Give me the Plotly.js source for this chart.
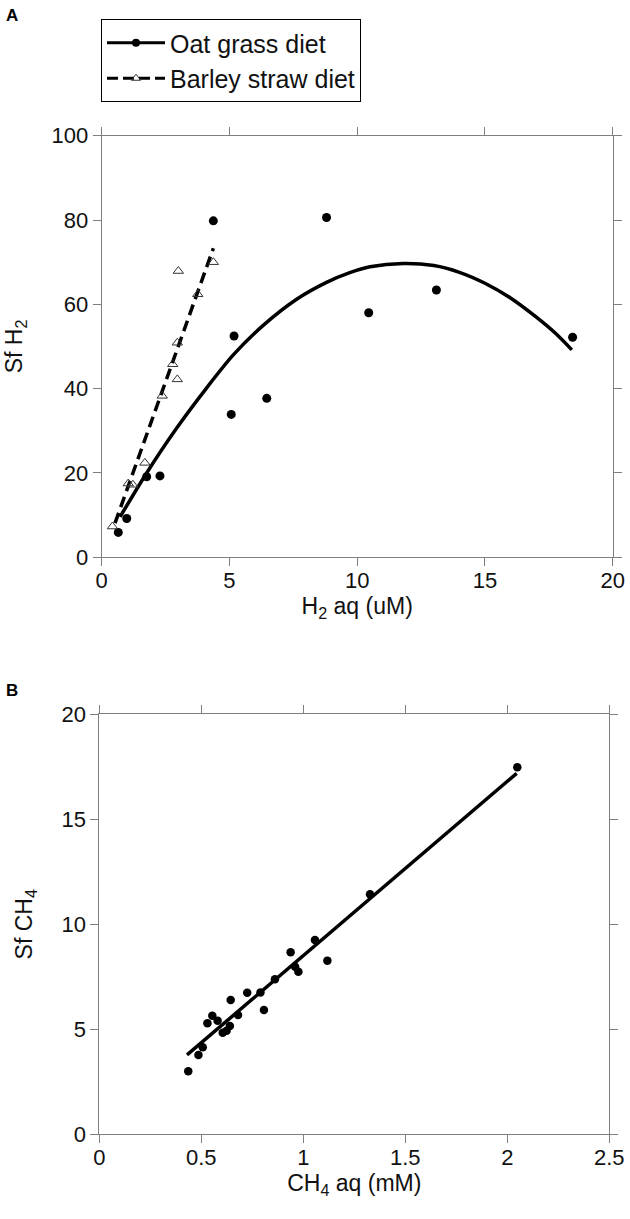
<!DOCTYPE html>
<html>
<head>
<meta charset="utf-8">
<script src="https://cdn.plot.ly/plotly-3.0.1.min.js"></script>
<style>
  html, body { margin: 0; padding: 0; background: #fff; }
  #chart { width: 630px; height: 1219px; }
</style>
</head>
<body>
<div id="chart"></div>
<script>
// ---- Painel A: H2 ----
const oatH2 = [0.65, 0.98, 1.76, 2.28, 4.37, 5.07, 5.18, 6.46, 8.80, 10.45, 13.1, 18.43];
const oatSf = [5.9, 9.2, 19.1, 19.3, 79.8, 33.9, 52.5, 37.7, 80.6, 58.0, 63.4, 52.2];

const barleyH2 = [0.42, 1.04, 1.22, 1.69, 2.37, 2.78, 2.96, 2.96, 3.0, 3.76, 4.37];
const barleySf = [7.3, 17.5, 17.2, 22.4, 38.3, 45.8, 42.2, 50.9, 67.9, 62.4, 70.0];

// curvas de ajuste
const oatFitX = [0.72, 1.76, 2.93, 4.11, 5.15, 6.32, 7.63, 8.80, 9.71, 10.5, 11.8, 13.0, 14.0, 15.0, 16.0, 17.0, 17.8, 18.4];
const oatFitY = [9.6, 20.0, 30.6, 40.2, 48.0, 55.0, 61.2, 65.2, 67.5, 68.9, 69.7, 69.2, 67.6, 65.0, 61.5, 57.0, 52.9, 49.2];
const barleyFitX = [0.52, 4.37];
const barleyFitY = [8.1, 73.3];

// ---- Painel B: CH4 ----
const ch4Aq = [0.436, 0.486, 0.507, 0.530, 0.554, 0.580, 0.605, 0.624, 0.640, 0.644, 0.680, 0.725,
               0.790, 0.807, 0.861, 0.938, 0.960, 0.976, 1.057, 1.118, 1.327, 2.049];
const ch4Sf = [3.0, 3.78, 4.14, 5.29, 5.65, 5.41, 4.84, 4.93, 5.16, 6.40, 5.68, 6.74,
               6.75, 5.92, 7.38, 8.67, 7.98, 7.74, 9.25, 8.27, 11.43, 17.48];
const ch4FitX = [0.43, 2.046];
const ch4FitY = [3.78, 17.19];

const seriesNames = ["Oat grass diet", "Barley straw diet"];

const FONT = "Liberation Sans, Arial, sans-serif";
const AXIS_GRAY = "#7f7f7f";

function axisBase(range, dtick, domain, anchor) {
  return {
    range: range,
    dtick: dtick,
    tick0: 0,
    domain: domain,
    anchor: anchor,
    showgrid: false,
    zeroline: false,
    showline: true,
    linecolor: AXIS_GRAY,
    linewidth: 1,
    mirror: "ticks",
    ticks: "outside",
    ticklen: 8,
    tickcolor: AXIS_GRAY,
    tickfont: { family: FONT, size: 22, color: "#111" },
    fixedrange: true
  };
}

const traces = [
  // legenda (apenas simbolos)
  {
    x: [null], y: [null], mode: "lines+markers", name: seriesNames[0],
    line: { color: "black", width: 3 },
    marker: { symbol: "circle", size: 8, color: "black" },
    xaxis: "x", yaxis: "y"
  },
  {
    x: [null], y: [null], mode: "lines+markers", name: seriesNames[1],
    line: { color: "black", width: 3, dash: "11px,5px" },
    marker: { symbol: "triangle-up-open", size: 8, color: "#333", line: { width: 1 } },
    xaxis: "x", yaxis: "y"
  },
  // painel A
  {
    x: oatFitX, y: oatFitY, mode: "lines", showlegend: false,
    line: { color: "black", width: 3.5, shape: "spline", smoothing: 0.8 },
    xaxis: "x", yaxis: "y", hoverinfo: "skip"
  },
  {
    x: barleyFitX, y: barleyFitY, mode: "lines", showlegend: false,
    line: { color: "black", width: 3.5, dash: "11px,6px" },
    xaxis: "x", yaxis: "y", hoverinfo: "skip"
  },
  {
    x: oatH2, y: oatSf, mode: "markers", showlegend: false,
    marker: { symbol: "circle", size: 9, color: "black" },
    xaxis: "x", yaxis: "y"
  },
  {
    x: barleyH2, y: barleySf, mode: "markers", showlegend: false,
    marker: { symbol: "triangle-up-open", size: 9, color: "#333", line: { width: 1 } },
    xaxis: "x", yaxis: "y"
  },
  // painel B
  {
    x: ch4FitX, y: ch4FitY, mode: "lines", showlegend: false,
    line: { color: "black", width: 3.5 },
    xaxis: "x2", yaxis: "y2", hoverinfo: "skip"
  },
  {
    x: ch4Aq, y: ch4Sf, mode: "markers", showlegend: false,
    marker: { symbol: "circle", size: 8.5, color: "black" },
    xaxis: "x2", yaxis: "y2"
  }
];

const W = 630, H = 1219;
const titleFont = { family: FONT, size: 23, color: "#111" };

const xA = axisBase([0, 20], 5, [101.7 / W, 612.7 / W], "y");
xA.title = { text: "H<sub>2</sub> aq (uM)", font: titleFont, standoff: 4 };
xA.ticklabelstandoff = -5;
const yA = axisBase([0, 100], 20, [(H - 557.3) / H, (H - 135.7) / H], "x");
yA.title = { text: "Sf H<sub>2</sub>", font: titleFont, standoff: 22 };

const xB = axisBase([0, 2.5], 0.5, [99.3 / W, 609.3 / W], "y2");
xB.title = { text: "CH<sub>4</sub> aq (mM)", font: titleFont, standoff: 4 };
xB.ticklabelstandoff = -5;
const yB = axisBase([0, 20], 5, [(H - 1134.3) / H, (H - 714.3) / H], "x2");
yB.title = { text: "Sf CH<sub>4</sub>", font: titleFont, standoff: 22 };

const layout = {
  width: W,
  height: H,
  margin: { l: 0, r: 0, t: 0, b: 0 },
  paper_bgcolor: "white",
  plot_bgcolor: "white",
  showlegend: true,
  legend: {
    x: 101 / W, y: (H - 19) / H, xanchor: "left", yanchor: "top",
    bordercolor: "black", borderwidth: 1, bgcolor: "white",
    font: { family: FONT, size: 25, color: "#111" },
    tracegroupgap: 0, itemwidth: 58
  },
  xaxis: xA,
  yaxis: yA,
  xaxis2: xB,
  yaxis2: yB,
  annotations: [
    { text: "<b>A</b>", x: 4 / W, y: (H - 4) / H, xref: "paper", yref: "paper",
      xanchor: "left", yanchor: "top", showarrow: false,
      font: { family: FONT, size: 17, color: "black" } },
    { text: "<b>B</b>", x: 4 / W, y: (H - 679) / H, xref: "paper", yref: "paper",
      xanchor: "left", yanchor: "top", showarrow: false,
      font: { family: FONT, size: 17, color: "black" } }
  ]
};

Plotly.newPlot("chart", traces, layout, { displayModeBar: false, staticPlot: true });
</script>
</body>
</html>
